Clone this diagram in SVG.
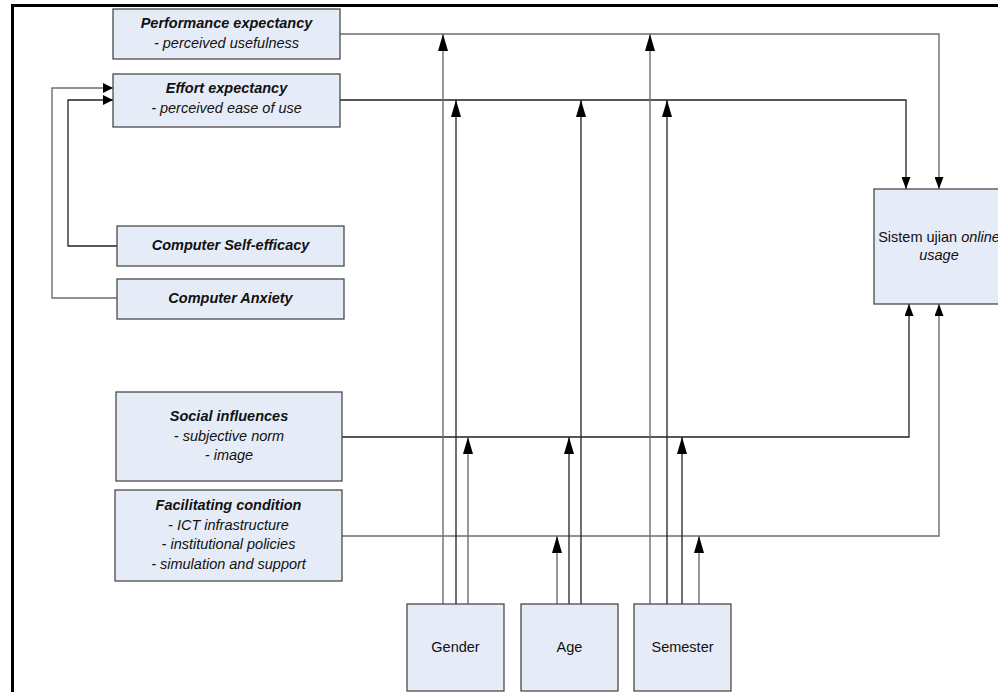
<svg xmlns="http://www.w3.org/2000/svg" width="998" height="692" viewBox="0 0 998 692">
<style>
.box{fill:#e6ecf7;stroke:#4a4a4a;stroke-width:1.3}
.t{font-family:"Liberation Sans",Arial,sans-serif;font-size:14.5px;fill:#111;text-anchor:middle}
.b{font-weight:bold;font-style:italic}
.i{font-style:italic}
.k{fill:none;stroke:#222;stroke-width:1.3}
.g{fill:none;stroke:#6e6e6e;stroke-width:1.4}
</style>
<defs>
<marker id="up" markerUnits="userSpaceOnUse" markerWidth="17" markerHeight="10" refX="17" refY="5" orient="auto"><path d="M0,0 L17,5 L0,10 z" fill="#000"/></marker>
<marker id="dn" markerUnits="userSpaceOnUse" markerWidth="12" markerHeight="9" refX="12" refY="4.5" orient="auto"><path d="M0,0 L12,4.5 L0,9 z" fill="#000"/></marker>
<marker id="lf" markerUnits="userSpaceOnUse" markerWidth="10" markerHeight="10" refX="10" refY="5" orient="auto"><path d="M0,0 L10,5 L0,10 z" fill="#000"/></marker>
</defs>
<rect x="0" y="0" width="998" height="692" fill="#fff"/>
<rect x="12.5" y="5.5" width="1000" height="700" fill="none" stroke="#000" stroke-width="3"/>

<g id="connectors">
<path class="g" d="M340,34 H939 V189" marker-end="url(#dn)"/>
<path class="k" d="M340,100 H906 V189" marker-end="url(#dn)"/>
<path class="k" d="M342,437 H909 V304" marker-end="url(#dn)"/>
<path class="g" d="M342,536 H939 V304" marker-end="url(#dn)"/>
<path class="k" d="M117,246 H68 V100 H113" marker-end="url(#lf)"/>
<path class="g" d="M117,298 H52 V88 H113" marker-end="url(#lf)"/>
<path class="g" d="M443,604 V34" marker-end="url(#up)"/>
<path class="k" d="M456,604 V100" marker-end="url(#up)"/>
<path class="g" d="M468,604 V437" marker-end="url(#up)"/>
<path class="g" d="M557,604 V536" marker-end="url(#up)"/>
<path class="k" d="M569,604 V437" marker-end="url(#up)"/>
<path class="k" d="M581,604 V100" marker-end="url(#up)"/>
<path class="g" d="M650,604 V34" marker-end="url(#up)"/>
<path class="k" d="M667,604 V100" marker-end="url(#up)"/>
<path class="k" d="M682,604 V437" marker-end="url(#up)"/>
<path class="g" d="M699,604 V536" marker-end="url(#up)"/>
</g>

<g id="performance">
<rect class="box" x="113" y="9" width="227" height="50"/>
<text class="t b" x="226.5" y="28">Performance expectancy</text>
<text class="t i" x="226.5" y="48">- perceived usefulness</text>
</g>
<g id="effort">
<rect class="box" x="113" y="74" width="227" height="53"/>
<text class="t b" x="226.5" y="93">Effort expectancy</text>
<text class="t i" x="226.5" y="113">- perceived ease of use</text>
</g>
<g id="selfefficacy">
<rect class="box" x="117" y="226" width="227" height="40"/>
<text class="t b" x="230.5" y="250">Computer Self-efficacy</text>
</g>
<g id="anxiety">
<rect class="box" x="117" y="279" width="227" height="40"/>
<text class="t b" x="230.5" y="303">Computer Anxiety</text>
</g>
<g id="social">
<rect class="box" x="116" y="392" width="226" height="89"/>
<text class="t b" x="229" y="421">Social influences</text>
<text class="t i" x="229" y="441">- subjective norm</text>
<text class="t i" x="229" y="460">- image</text>
</g>
<g id="facilitating">
<rect class="box" x="115" y="490" width="227" height="91"/>
<text class="t b" x="228.5" y="510">Facilitating condition</text>
<text class="t i" x="228.5" y="529.5">- ICT infrastructure</text>
<text class="t i" x="228.5" y="549">- institutional policies</text>
<text class="t i" x="228.5" y="568.5">- simulation and support</text>
</g>
<g id="usage">
<rect class="box" x="874" y="189" width="130" height="115"/>
<text class="t" x="939" y="242">Sistem ujian <tspan class="i">online</tspan></text>
<text class="t i" x="939" y="260">usage</text>
</g>
<g id="gender">
<rect class="box" x="407" y="604" width="97" height="87"/>
<text class="t" x="455.5" y="652">Gender</text>
</g>
<g id="age">
<rect class="box" x="521" y="604" width="97" height="87"/>
<text class="t" x="569.5" y="652">Age</text>
</g>
<g id="semester">
<rect class="box" x="634" y="604" width="97" height="87"/>
<text class="t" x="682.5" y="652">Semester</text>
</g>
</svg>
